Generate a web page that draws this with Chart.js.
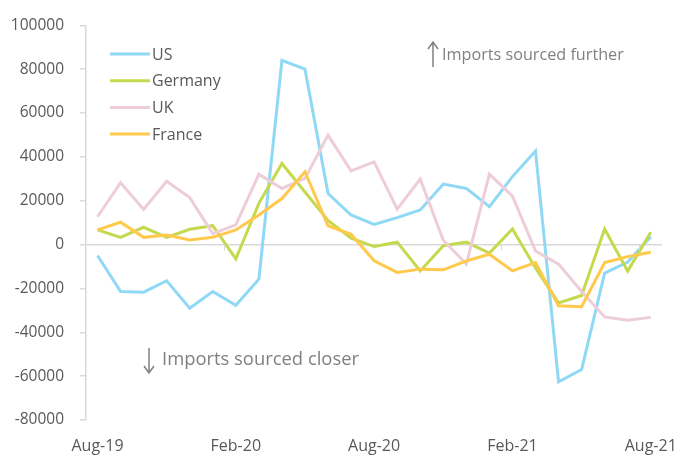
<!DOCTYPE html>
<html>
<head>
<meta charset="utf-8">
<script src="https://cdn.jsdelivr.net/npm/chart.js@4"></script>
<style>
  html, body { margin: 0; padding: 0; background: #fff; }
  #wrap { width: 694px; height: 458px; position: relative; }
</style>
</head>
<body>
<div id="wrap"><canvas id="chart"></canvas></div>
<script>
// monthly labels, Aug-19 .. Aug-21
const months = [
  "Aug-19", "Sep-19", "Oct-19", "Nov-19", "Dec-19", "Jan-20", "Feb-20",
  "Mar-20", "Apr-20", "May-20", "Jun-20", "Jul-20", "Aug-20", "Sep-20",
  "Oct-20", "Nov-20", "Dec-20", "Jan-21", "Feb-21", "Mar-21", "Apr-21",
  "May-21", "Jun-21", "Jul-21", "Aug-21"
];

const usVals = [
  -5000, -21400, -21700, -16500, -29000, -21400, -27700, -15800, 84000, 80000,
  23300, 13500, 9200, 12300, 15800, 27600, 25600, 17300, 31000, 42700,
  -62600, -57000, -13000, -8000, 3600
];
const germanyVals = [
  6700, 3300, 7900, 3300, 7000, 8600, -6500, 18800, 37000, 24000,
  11000, 2900, -900, 1100, -12000, -500, 1100, -3900, 7100, -10700,
  -26600, -23200, 7100, -12100, 5600
];
const ukVals = [
  12700, 28200, 16000, 28900, 21400, 5000, 9000, 32100, 25600, 30200,
  49900, 33600, 37700, 16200, 29900, 2000, -8900, 32100, 22100, -2900,
  -8900, -21400, -33000, -34500, -33200
];
const franceVals = [
  6700, 10200, 3300, 4400, 2100, 3300, 6700, 13500, 21000, 33200,
  8600, 4700, -7400, -12700, -11200, -11500, -7400, -4400, -12000, -8200,
  -27900, -28300, -8200, -5500, -3500
];

const seriesNames = ["US", "Germany", "UK", "France"];
const seriesColors = ["#8fd8f6", "#c6d94e", "#eecdd8", "#ffc94c"];
const yTicks = [100000, 80000, 60000, 40000, 20000, 0, -20000, -40000, -60000, -80000];

const textColor = "#595959";
const noteColor = "#808080";
const axisColor = "#d9d9d9";
const fontFamily = "'Open Sans', sans-serif";

// thin arrow for the notes
function drawArrow(ctx, x, yFrom, yTo) {
  const dir = yTo < yFrom ? -1 : 1;
  ctx.beginPath();
  ctx.moveTo(x, yFrom);
  ctx.lineTo(x, yTo);
  ctx.moveTo(x - 5, yTo - dir * 7);
  ctx.lineTo(x, yTo);
  ctx.lineTo(x + 5, yTo - dir * 7);
  ctx.stroke();
}

// legend, notes and x tick marks drawn inside the plot area
const extrasPlugin = {
  id: "extras",
  afterDraw(chart) {
    const ctx = chart.ctx;
    const x = chart.scales.x;
    const y = chart.scales.y;
    ctx.save();

    // small tick marks on the zero line every 6 months
    const step = x.getPixelForValue(1) - x.getPixelForValue(0);
    const y0 = y.getPixelForValue(0);
    ctx.strokeStyle = axisColor;
    ctx.lineWidth = 1;
    for (let i = 6; i < months.length; i += 6) {
      const px = Math.round(x.getPixelForValue(i) - step / 2) + 0.5;
      ctx.beginPath();
      ctx.moveTo(px, y0);
      ctx.lineTo(px, y0 + 6);
      ctx.stroke();
    }

    // legend
    ctx.font = "16px " + fontFamily;
    ctx.textBaseline = "middle";
    seriesNames.forEach((name, i) => {
      const ly = 54 + i * 26.7;
      ctx.strokeStyle = seriesColors[i];
      ctx.lineWidth = 3;
      ctx.beginPath();
      ctx.moveTo(110, ly);
      ctx.lineTo(150, ly);
      ctx.stroke();
      ctx.fillStyle = textColor;
      ctx.fillText(name, 152, ly + 1);
    });

    // direction notes
    ctx.strokeStyle = noteColor;
    ctx.lineWidth = 1.5;
    drawArrow(ctx, 433, 67, 42);
    drawArrow(ctx, 149, 348, 373);
    ctx.fillStyle = noteColor;
    ctx.font = "16.2px " + fontFamily;
    ctx.fillText("Imports sourced further", 442, 55);
    ctx.font = "18.4px " + fontFamily;
    ctx.fillText("Imports sourced closer", 162, 360);
    ctx.restore();
  }
};

const datasets = [usVals, germanyVals, ukVals, franceVals].map((vals, i) => ({
  label: seriesNames[i],
  data: vals,
  borderColor: seriesColors[i],
  backgroundColor: seriesColors[i],
  borderWidth: 3,
  pointRadius: 0,
  tension: 0,
  order: 4 - i
}));

new Chart(document.getElementById("chart"), {
  type: "line",
  data: { labels: months, datasets: datasets },
  plugins: [extrasPlugin],
  options: {
    responsive: true,
    maintainAspectRatio: false,
    animation: false,
    layout: { padding: { top: 23, right: 11, left: 0, bottom: 0 } },
    plugins: {
      legend: { display: false },
      tooltip: { enabled: false }
    },
    scales: {
      x: {
        offset: true,
        grid: { display: false, drawTicks: false },
        border: { display: false },
        ticks: {
          autoSkip: false,
          maxRotation: 0,
          padding: 17,
          color: textColor,
          font: { size: 16, family: fontFamily },
          callback: function (val, idx) {
            return idx % 6 === 0 ? months[idx] : "";
          }
        },
        afterFit: (scale) => { scale.height = 38; }
      },
      y: {
        min: -80000,
        max: 100000,
        afterBuildTicks: (scale) => {
          scale.ticks = yTicks.map((v) => ({ value: v }));
        },
        grid: {
          color: (c) => (c.tick && c.tick.value === 0 ? axisColor : "rgba(0,0,0,0)"),
          tickColor: axisColor,
          tickLength: 6,
          lineWidth: 1.5
        },
        border: { display: true, color: axisColor, width: 1.5 },
        ticks: {
          padding: 16,
          color: textColor,
          font: { size: 15.5, family: fontFamily },
          callback: (v) => String(v)
        },
        afterFit: (scale) => { scale.width = 86; }
      }
    }
  }
});
</script>
</body>
</html>
